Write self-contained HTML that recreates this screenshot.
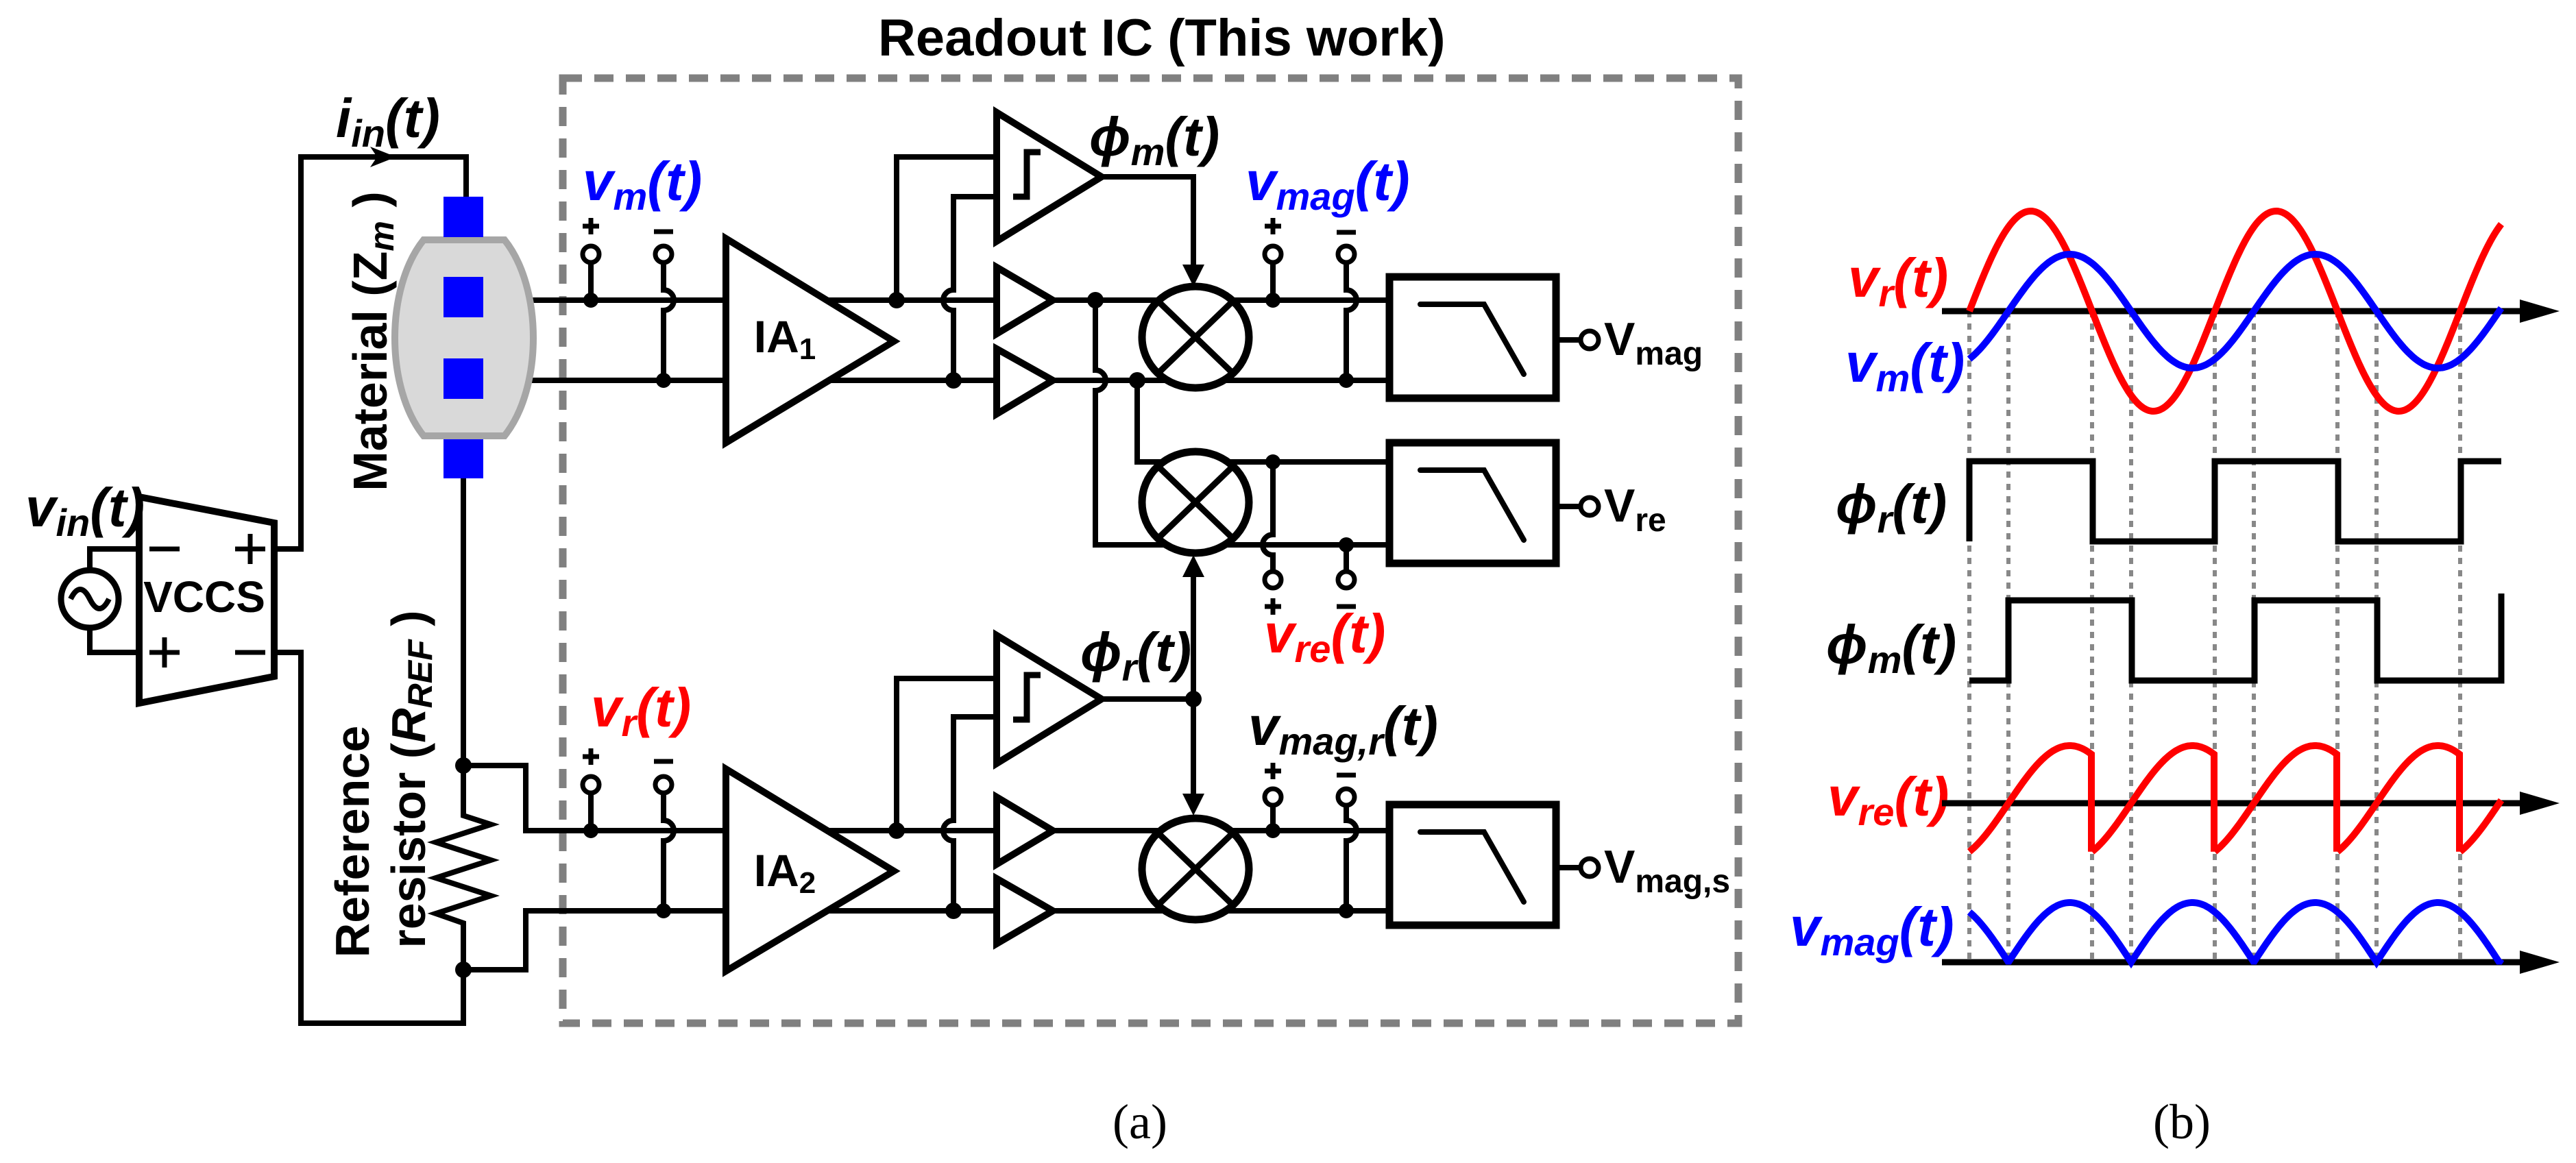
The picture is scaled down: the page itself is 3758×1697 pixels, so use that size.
<!DOCTYPE html>
<html><head><meta charset="utf-8"><style>
html,body{margin:0;padding:0;background:#fff;}
svg{display:block;}
text{font-family:"Liberation Sans",Arial,sans-serif;font-weight:bold;}
.lab{font-style:italic;font-size:80px;}
.sub{font-size:56px;}
</style></head><body>
<svg id="s" width="3758" height="1697" viewBox="0 0 3758 1697" xmlns="http://www.w3.org/2000/svg">
<rect width="3758" height="1697" fill="#fff"/>
<rect x="821" y="114" width="1715" height="1379" fill="none" stroke="#808080" stroke-width="11" stroke-dasharray="28 18"/>
<g fill="none" stroke="#000" stroke-width="8" stroke-linejoin="miter">
<path d="M400,801 H439 V229 H680 V290"/>
<path d="M676,698 V1190 L716,1203 L636,1229 L716,1255 L636,1281 L716,1307 L636,1333 L676,1347 V1493 H439 V952 H400"/>
<path d="M131,832 V801 H203 M131,916 V952 H203"/>
<path d="M676,1117 H767 V1212 H1062 M676,1415 H767 V1329 H1062"/>
<path d="M705,438 H1062 M705,555 H1062"/>
<path d="M862,438 V383 M968,383 V423 A15,15 0 0 1 968,453 V555"/>
<path d="M862,1212 V1157 M968,1157 V1197 A15,15 0 0 1 968,1227 V1329"/>
<path d="M1206,438 H1454 M1210,555 H1454 M1207,1212 H1454 M1207,1329 H1454"/>
<path d="M1308,438 V229 H1454 M1391,555 V453 A15,15 0 0 1 1391,423 V287 H1454"/>
<path d="M1308,1212 V990 H1454 M1391,1329 V1227 A15,15 0 0 1 1391,1197 V1046 H1454"/>
<path d="M1607,258 H1741 V392 M1607,1020 H1741 M1741,838 V1162"/>
<path d="M1536,438 H2027 M1536,555 H2027 M1536,1212 H2027 M1536,1329 H2027"/>
<path d="M1598,438 V540 A15,15 0 0 1 1598,570 V795 H2027 M1659,555 V674 H2027"/>
<path d="M1857,438 V383 M1964,383 V423 A15,15 0 0 1 1964,453 V555"/>
<path d="M1857,674 V780 A15,15 0 0 0 1857,810 V834 M1964,795 V834"/>
<path d="M1857,1212 V1175 M1964,1175 V1197 A15,15 0 0 1 1964,1227 V1329"/>
<path d="M2270,496 H2306 M2270,739 H2306 M2270,1266 H2306"/>
</g>
<path d="M618,350 H736 C792,420 792,566 736,636 H618 C562,566 562,420 618,350 Z" fill="#d9d9d9" stroke="#a6a6a6" stroke-width="10"/>
<g fill="#0000ff"><rect x="647" y="287" width="58" height="59"/><rect x="647" y="404" width="58" height="59"/><rect x="647" y="523" width="58" height="59"/><rect x="647" y="641" width="58" height="57"/></g>
<polygon points="578,229 540,214 550,229 540,244" fill="#000"/>
<circle cx="131" cy="874" r="42" fill="#fff" stroke="#000" stroke-width="9"/>
<path d="M103,874 q14,-28 28,0 t28,0" fill="none" stroke="#000" stroke-width="8"/>
<polygon points="203,725 400,763 400,987 203,1026" fill="#fff" stroke="#000" stroke-width="10"/>
<g fill="#fff" stroke="#000" stroke-width="10">
<polygon points="1059,348 1304,498 1059,646"/>
<polygon points="1059,1122 1304,1271 1059,1417"/>
<polygon points="1454,164 1607,258 1454,352"/>
<polygon points="1454,927 1607,1020 1454,1114"/>
<polygon points="1454,390 1536,438 1454,487"/>
<polygon points="1454,509 1536,555 1454,604"/>
<polygon points="1454,1163 1536,1212 1454,1261"/>
<polygon points="1454,1282 1536,1329 1454,1377"/>
</g>
<path d="M1478,287 H1498 V222 H1518 M1478,1050 H1498 V985 H1518" fill="none" stroke="#000" stroke-width="9"/>
<g fill="#fff" stroke="#000" stroke-width="11">
<ellipse cx="1744" cy="492" rx="78" ry="74"/>
<ellipse cx="1744" cy="733" rx="78" ry="74"/>
<ellipse cx="1744" cy="1268" rx="78" ry="74"/>
</g>
<path d="M1689,439 L1799,545 M1799,439 L1689,545 M1689,680 L1799,786 M1799,680 L1689,786 M1689,1215 L1799,1321 M1799,1215 L1689,1321" stroke="#000" stroke-width="9"/>
<g fill="#000">
<polygon points="1741,418 1725,386 1757,386"/>
<polygon points="1741,810 1725,842 1757,842"/>
<polygon points="1741,1190 1725,1158 1757,1158"/>
</g>
<g fill="#fff" stroke="#000" stroke-width="11">
<rect x="2027" y="404" width="243" height="177"/>
<rect x="2027" y="646" width="243" height="176"/>
<rect x="2027" y="1174" width="243" height="176"/>
</g>
<path d="M2072,444 H2165 L2223,546 M2072,686 H2165 L2223,788 M2072,1214 H2165 L2223,1316" fill="none" stroke="#000" stroke-width="8" stroke-linecap="round"/>
<g fill="#000">
<circle cx="676" cy="1117" r="12"/><circle cx="676" cy="1415" r="12"/>
<circle cx="862" cy="438" r="11"/><circle cx="968" cy="555" r="11"/>
<circle cx="862" cy="1212" r="11"/><circle cx="968" cy="1329" r="11"/>
<circle cx="1308" cy="438" r="12"/><circle cx="1391" cy="555" r="12"/>
<circle cx="1308" cy="1212" r="12"/><circle cx="1391" cy="1329" r="12"/>
<circle cx="1598" cy="438" r="12"/><circle cx="1659" cy="555" r="12"/>
<circle cx="1857" cy="438" r="11"/><circle cx="1964" cy="555" r="11"/>
<circle cx="1857" cy="674" r="11"/><circle cx="1964" cy="795" r="11"/>
<circle cx="1857" cy="1212" r="11"/><circle cx="1964" cy="1329" r="11"/>
<circle cx="1741" cy="1020" r="12"/>
</g>
<g fill="#fff" stroke="#000" stroke-width="7">
<circle cx="862" cy="371" r="12"/><circle cx="968" cy="371" r="12"/>
<circle cx="862" cy="1145" r="12"/><circle cx="968" cy="1145" r="12"/>
<circle cx="1857" cy="371" r="12"/><circle cx="1964" cy="371" r="12"/>
<circle cx="1857" cy="846" r="12"/><circle cx="1964" cy="846" r="12"/>
<circle cx="1857" cy="1163" r="12"/><circle cx="1964" cy="1163" r="12"/>
<circle cx="2319" cy="496" r="13"/><circle cx="2319" cy="739" r="13"/><circle cx="2319" cy="1266" r="13"/>
</g>
<g stroke="#000" stroke-width="7">
<path d="M850,330 H874 M862,318 V342 M954,338 H982"/>
<path d="M850,1104 H874 M862,1092 V1116 M954,1111 H982"/>
<path d="M1845,330 H1869 M1857,318 V342 M1950,339 H1978"/>
<path d="M1845,885 H1869 M1857,873 V897 M1950,885 H1978"/>
<path d="M1845,1125 H1869 M1857,1113 V1137 M1950,1131 H1978"/>
<path d="M218,801 H262 M343,801 H387 M365,779 V823 M218,952 H262 M240,930 V974 M343,952 H387"/>
</g>
<text x="1281" y="81" font-size="76">Readout IC (This work)</text>
<text class="lab" x="490" y="200">i<tspan class="sub" dy="14">in</tspan><tspan dy="-14">(t)</tspan></text>
<text class="lab" x="37" y="768">v<tspan class="sub" dy="14">in</tspan><tspan dy="-14">(t)</tspan></text>
<text x="298" y="893" font-size="64" text-anchor="middle">VCCS</text>
<text class="lab" x="850" y="292" fill="#0000ff">v<tspan class="sub" dy="14">m</tspan><tspan dy="-14">(t)</tspan></text>
<text class="lab" x="862" y="1060" fill="#ff0000">v<tspan class="sub" dy="14">r</tspan><tspan dy="-14">(t)</tspan></text>
<text x="1145" y="514" font-size="66" text-anchor="middle">IA<tspan font-size="44" dy="10">1</tspan></text>
<text x="1145" y="1293" font-size="66" text-anchor="middle">IA<tspan font-size="44" dy="10">2</tspan></text>
<text class="lab" x="1589" y="227">ϕ<tspan class="sub" dy="14">m</tspan><tspan dy="-14">(t)</tspan></text>
<text class="lab" x="1576" y="979">ϕ<tspan class="sub" dy="14">r</tspan><tspan dy="-14">(t)</tspan></text>
<text class="lab" x="1817" y="292" fill="#0000ff">v<tspan class="sub" dy="14">mag</tspan><tspan dy="-14">(t)</tspan></text>
<text class="lab" x="1844" y="952" fill="#ff0000">v<tspan class="sub" dy="14">re</tspan><tspan dy="-14">(t)</tspan></text>
<text class="lab" x="1821" y="1087">v<tspan class="sub" dy="14">mag,r</tspan><tspan dy="-14">(t)</tspan></text>
<text x="2340" y="518" font-size="68" font-weight="normal">V<tspan font-size="48" dy="14">mag</tspan></text>
<text x="2340" y="761" font-size="68" font-weight="normal">V<tspan font-size="48" dy="14">re</tspan></text>
<text x="2340" y="1288" font-size="68" font-weight="normal">V<tspan font-size="48" dy="14">mag,s</tspan></text>
<text transform="translate(564,498) rotate(-90)" font-size="70" text-anchor="middle">Material (Z<tspan font-style="italic" font-size="50" dy="10">m</tspan><tspan dy="-10"> )</tspan></text>
<text transform="translate(538,1228) rotate(-90)" font-size="70" text-anchor="middle">Reference</text>
<text transform="translate(620,1137) rotate(-90)" font-size="70" text-anchor="middle">resistor (<tspan font-style="italic">R</tspan><tspan font-style="italic" font-size="50" dy="10">REF</tspan><tspan dy="-10"> )</tspan></text>
<text x="1663" y="1661" font-size="72" text-anchor="middle" style="font-family:'Liberation Serif',serif;font-weight:normal">(a)</text>
<text x="3183" y="1661" font-size="72" text-anchor="middle" style="font-family:'Liberation Serif',serif;font-weight:normal">(b)</text>
<text class="lab" x="2696" y="433" fill="#ff0000">v<tspan class="sub" dy="14">r</tspan><tspan dy="-14">(t)</tspan></text>
<text class="lab" x="2692" y="557" fill="#0000ff">v<tspan class="sub" dy="14">m</tspan><tspan dy="-14">(t)</tspan></text>
<text class="lab" x="2678" y="763">ϕ<tspan class="sub" dy="14">r</tspan><tspan dy="-14">(t)</tspan></text>
<text class="lab" x="2664" y="968">ϕ<tspan class="sub" dy="14">m</tspan><tspan dy="-14">(t)</tspan></text>
<text class="lab" x="2666" y="1190" fill="#ff0000">v<tspan class="sub" dy="14">re</tspan><tspan dy="-14">(t)</tspan></text>
<text class="lab" x="2611" y="1380" fill="#0000ff">v<tspan class="sub" dy="14">mag</tspan><tspan dy="-14">(t)</tspan></text>
<g id="wf"></g>
</svg>
<script>
(function(){
var g=document.getElementById('wf'),NS='http://www.w3.org/2000/svg';
function P(d,c,w,extra){var p=document.createElementNS(NS,'path');p.setAttribute('d',d);p.setAttribute('fill','none');p.setAttribute('stroke',c);p.setAttribute('stroke-width',w);if(extra)for(var k in extra)p.setAttribute(k,extra[k]);g.appendChild(p);}
var x0=2873,Pd=358,x1=3649,lag=57,TP=2*Math.PI;
var ts=[0,57,179,236,358,415,537,594,716];
var dd='';ts.forEach(function(t){dd+='M'+(x0+t)+',454 V1400 ';});
P(dd,'#888',6,{'stroke-dasharray':'9 9'});
P('M2833,454 H3690 M2833,1172 H3690 M2833,1404 H3690','#000',9);
[454,1172,1404].forEach(function(y){var p=document.createElementNS(NS,'polygon');p.setAttribute('points','3734,'+y+' 3676,'+(y-17)+' 3676,'+(y+17));g.appendChild(p);});
var r='',b='',mg='';
for(var x=x0;x<=x1;x+=2){
 var yr=454-146*Math.sin(TP*(x-x0)/Pd), yb=454-83*Math.sin(TP*(x-x0-lag)/Pd);
 r+=(x==x0?'M':'L')+x+','+yr.toFixed(1);
 b+=(x==x0?'M':'L')+x+','+yb.toFixed(1);
 mg+=(x==x0?'M':'L')+x+','+(1404-87*Math.abs(Math.sin(TP*(x-x0-lag)/Pd))).toFixed(1);
}
P(r,'#ff0000',10);P(b,'#0000ff',10);P(mg,'#0000ff',10);
for(var k=0;k<5;k++){var s=x0+k*Pd/2,e=Math.min(s+Pd/2,x1),d='';
 for(var x=s;x<=e+0.01;x+=2){var u=x-s;d+=(x==s?'M':'L')+x.toFixed(1)+','+(1172-84*Math.sin(TP*(u-lag)/Pd)).toFixed(1);}
 if(e<x1){d+='V'+(1172+84*Math.sin(TP*lag/Pd)).toFixed(1);}
 P(d,'#ff0000',10);}
var hr=673,lr=790,hm=876,lm=993;
P('M2873,'+lr+' V'+hr+' H3053 V'+lr+' H3231 V'+hr+' H3411 V'+lr+' H3590 V'+hr+' H3649','#000',9);
P('M2873,'+lm+' H2930 V'+hm+' H3110 V'+lm+' H3289 V'+hm+' H3468 V'+lm+' H3649 V866','#000',9);
})();
</script>
</body></html>
